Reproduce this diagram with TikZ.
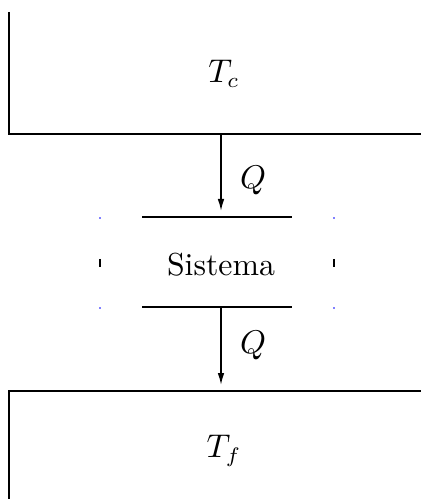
\documentclass[tikz,border=0pt]{standalone}
\usetikzlibrary{arrows.meta}
\begin{document}
\begin{tikzpicture}[x=0.3333pt,y=-0.3333pt,
  wall/.style={line width=0.6pt},
  flow/.style={line width=0.5pt,-{Latex[length=4pt,width=2.2pt]}},
  lbl/.style={inner sep=0pt,font=\fontsize{10.6}{12.7}\selectfont}]
\useasboundingbox (0,0) rectangle (420,499);
% hot reservoir
\draw[wall] (9,12) -- (9,134) -- (430,134);
\node[lbl] (tc) at (224,74) {$T_c$};
% cold reservoir
\draw[wall] (9,505) -- (9,391) -- (430,391);
\node[lbl] (tf) at (224,451) {$T_f$};
% system
\draw[wall] (142,217) -- (292,217);
\draw[wall] (142,307) -- (292,307);
\node[lbl] (sis) at (221,265) {Sistema};
\draw[line width=0.35pt] (100,259) -- (100,267);
\draw[line width=0.35pt] (334,259) -- (334,267);
\fill[blue] (100,218) circle (0.3pt) (334,218) circle (0.3pt)
  (100,308) circle (0.3pt) (334,308) circle (0.3pt);
% heat flows
\coordinate (a1) at (221,134);
\coordinate (a2) at (221,211);
\coordinate (b1) at (221,307);
\coordinate (b2) at (221,385);
\draw[flow] (a1) -- (a2);
\draw[flow] (b1) -- (b2);
\node[lbl] (q1) at (253,180) {$Q$};
\node[lbl] (q2) at (253,345) {$Q$};
\end{tikzpicture}
\end{document}
